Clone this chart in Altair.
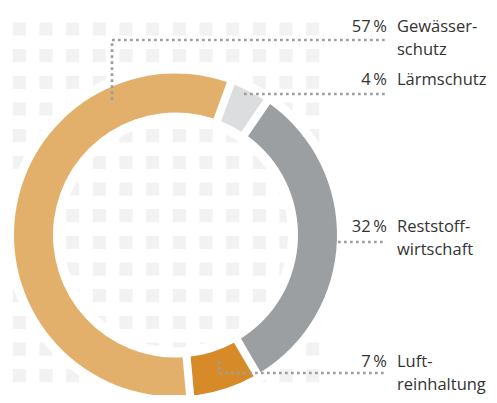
import math
import altair as alt
import pandas as pd

# ---- data ----
categories = ["Lärmschutz", "Reststoffwirtschaft", "Luftreinhaltung", "Gewässerschutz"]
values = [4, 32, 7, 57]
label_lines = [["Lärmschutz"], ["Reststoff-", "wirtschaft"], ["Luft-", "reinhaltung"], ["Gewässer-", "schutz"]]
colors = ["#DCDDDF", "#9C9FA2", "#D78A28", "#E2B06A"]

# ---- layout (pixel positions; image coords minus the 8px page margin) ----
OFF = 8
W, H = 497 - 2 * OFF, 403 - 2 * OFF
CX, CY = 175.5 - OFF, 235 - OFF
R_OUT, R_IN = 161.5, 122.5
START = math.radians(20)

donut = pd.DataFrame({
    "cat": categories,
    "value": values,
    "idx": list(range(len(categories))),
})

# background grid of squares
grid = pd.DataFrame(
    [{"gx": 19.3 + 26.67 * i - OFF, "gy": 29 + 26.67 * j - OFF}
     for i in range(12) for j in range(15)]
)

# label anchor baselines (image coords) and leader lines
label_y = {"Gewässerschutz": 32, "Lärmschutz": 84.5, "Reststoffwirtschaft": 232, "Luftreinhaltung": 367}
leaders = {
    "Gewässerschutz": [(112, 100), (112, 40), (385, 40)],
    "Lärmschutz": [(244, 94), (385, 94)],
    "Reststoffwirtschaft": [(338, 242), (385, 242)],
    "Luftreinhaltung": [(219, 361), (219, 373), (385, 373)],
}

pct_rows, name_rows, line_rows = [], [], []
for c, v, lines in zip(categories, values, label_lines):
    y = label_y[c] - OFF
    pct_rows.append({"t": f"{v}\u2009%", "lx": 387 - OFF, "ly": y})
    name_rows.append({"t": "\n".join(lines), "lx": 397 - OFF, "ly": y})
    for k, (px, py) in enumerate(leaders[c]):
        line_rows.append({"cat": c, "k": k, "lx": px - OFF, "ly": py - OFF})

pct_df = pd.DataFrame(pct_rows)
name_df = pd.DataFrame(name_rows)
line_df = pd.DataFrame(line_rows)

theta_scale = alt.Scale(range=[START, START + 2 * math.pi])

squares = alt.Chart(grid).mark_square(size=172, color="#F2F2F2", opacity=1).encode(
    x=alt.X("gx:Q", scale=None), y=alt.Y("gy:Q", scale=None)
)

halo = alt.Chart(donut).mark_arc(
    outerRadius=R_OUT + 9, innerRadius=R_IN - 10, color="white"
).encode(
    theta=alt.Theta("value:Q", stack=True, scale=theta_scale),
    order=alt.Order("idx:Q"),
    x=alt.value(CX), y=alt.value(CY),
)

arcs = alt.Chart(donut).mark_arc(
    outerRadius=R_OUT, innerRadius=R_IN, padAngle=0.04
).encode(
    theta=alt.Theta("value:Q", stack=True, scale=theta_scale),
    order=alt.Order("idx:Q"),
    color=alt.Color("cat:N", scale=alt.Scale(domain=categories, range=colors), legend=None),
    x=alt.value(CX), y=alt.value(CY),
)

leader_lines = alt.Chart(line_df).mark_line(
    color="#9B9EA1", strokeWidth=2.7, strokeDash=[2.7, 3.3], strokeCap="butt"
).encode(
    x=alt.X("lx:Q", scale=None), y=alt.Y("ly:Q", scale=None),
    detail="cat:N", order="k:Q",
)

pct_text = alt.Chart(pct_df).mark_text(
    align="right", baseline="alphabetic", font="Open Sans", fontSize=16.5,
    fontWeight=400, color="#333333"
).encode(x=alt.X("lx:Q", scale=None), y=alt.Y("ly:Q", scale=None), text="t:N")

name_text = alt.Chart(name_df).mark_text(
    align="left", baseline="alphabetic", font="Open Sans", fontSize=16.5,
    fontWeight=400, color="#333333", lineBreak="\n", lineHeight=23
).encode(x=alt.X("lx:Q", scale=None), y=alt.Y("ly:Q", scale=None), text="t:N")

chart = alt.layer(squares, halo, arcs, leader_lines, pct_text, name_text).properties(
    width=W, height=H, padding=0, background="white",
    autosize=alt.AutoSizeParams(type="none"),
).configure_view(stroke=None)

chart.save("out.html", embed_options={"renderer": "svg", "actions": False})
